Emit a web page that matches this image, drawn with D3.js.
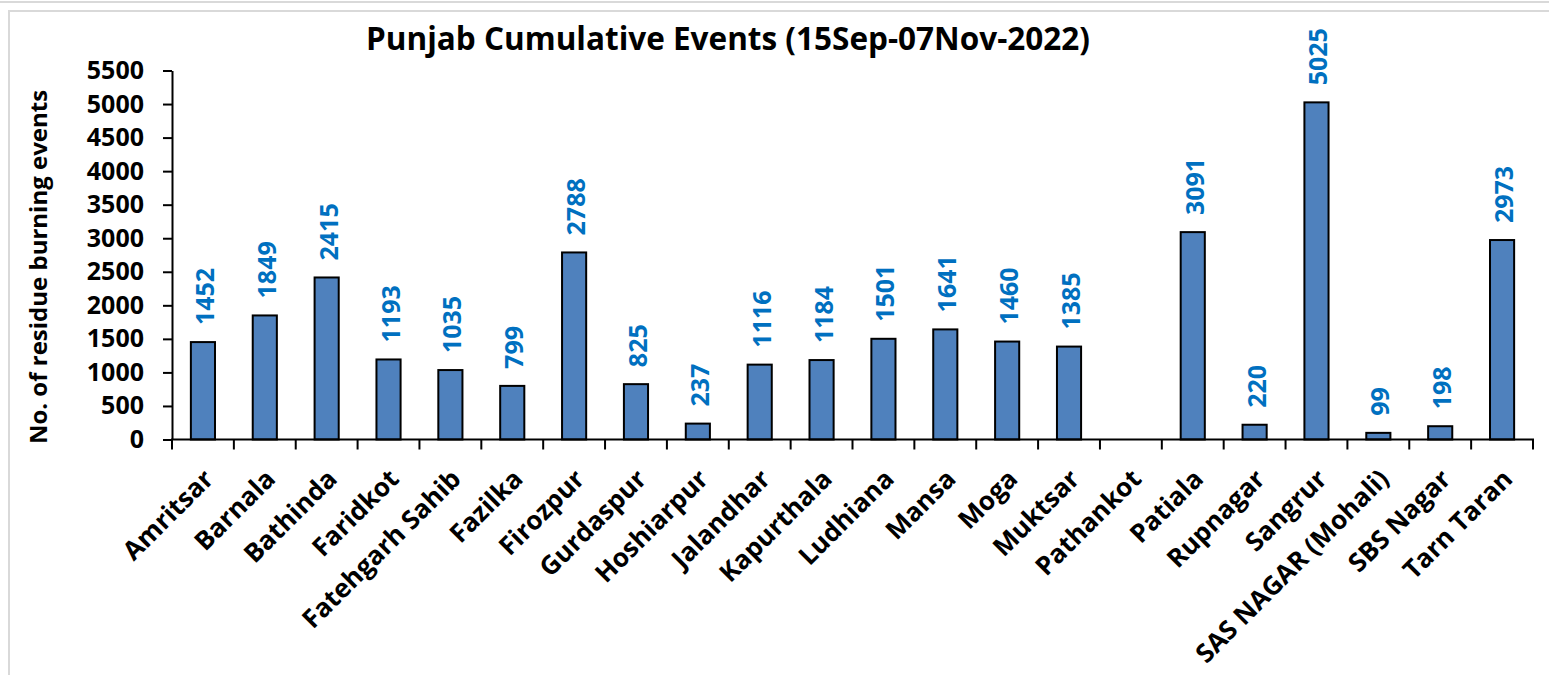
<!DOCTYPE html>
<html>
<head>
<meta charset="utf-8">
<script src="https://cdn.jsdelivr.net/npm/d3@7"></script>
<style>
  body { margin: 0; background: #fff; }
  svg { display: block; font-family: "Open Sans", sans-serif; font-weight: bold; }
</style>
</head>
<body>
<svg></svg>
<script>
// district names and cumulative events
var districts = ["Amritsar", "Barnala", "Bathinda", "Faridkot", "Fatehgarh Sahib", "Fazilka",
  "Firozpur", "Gurdaspur", "Hoshiarpur", "Jalandhar", "Kapurthala", "Ludhiana", "Mansa",
  "Moga", "Muktsar", "Pathankot", "Patiala", "Rupnagar", "Sangrur", "SAS NAGAR (Mohali)",
  "SBS Nagar", "Tarn Taran"];
var events = [1452, 1849, 2415, 1193, 1035, 799, 2788, 825, 237, 1116, 1184, 1501, 1641,
  1460, 1385, null, 3091, 220, 5025, 99, 198, 2973];
var yTicks = [0, 500, 1000, 1500, 2000, 2500, 3000, 3500, 4000, 4500, 5000, 5500];

var svgWidth = 1549, svgHeight = 675;
var plotLeft = 172, plotRight = 1533, plotTop = 70.5, plotBottom = 439.5;

var svg = d3.select('svg')
  .attr('width', svgWidth)
  .attr('height', svgHeight);

// outer frames
svg.append('line')
  .attr('x1', 0).attr('x2', svgWidth).attr('y1', 2).attr('y2', 2)
  .attr('stroke', '#d9d9d9').attr('stroke-width', 2);
svg.append('path')
  .attr('d', 'M9,' + (svgHeight + 5) + 'V11H' + (svgWidth + 5))
  .attr('fill', 'none')
  .attr('stroke', '#d9d9d9').attr('stroke-width', 2);

var xScale = d3.scaleBand()
  .domain(districts)
  .range([plotLeft, plotRight])
  .paddingInner(0.61)
  .paddingOuter(0.305);

var yScale = d3.scaleLinear()
  .domain([0, 5500])
  .range([plotBottom, plotTop]);

// bars
var data = districts.map((d, i) => ({name: d, value: events[i]}));
var withValue = data.filter(d => d.value != null);

svg.selectAll('rect.bar')
  .data(withValue)
  .enter()
  .append('rect')
  .attr('class', 'bar')
  .attr('x', d => xScale(d.name))
  .attr('y', d => yScale(d.value))
  .attr('width', xScale.bandwidth())
  .attr('height', d => plotBottom - yScale(d.value))
  .attr('fill', '#4f81bd')
  .attr('stroke', '#000')
  .attr('stroke-width', 2);

// value labels
svg.selectAll('text.val')
  .data(withValue)
  .enter()
  .append('text')
  .attr('class', 'val')
  .attr('transform', d => 'translate(' + (xScale(d.name) + xScale.bandwidth() / 2 + 1) + ',' + (yScale(d.value) - 17) + ') rotate(-90)')
  .attr('dominant-baseline', 'central')
  .attr('text-anchor', 'start')
  .attr('fill', '#0070c0')
  .attr('font-size', 25)
  .text(d => d.value);

// y axis
var yAxis = d3.axisLeft(yScale)
  .tickValues(yTicks)
  .tickFormat(d3.format('d'))
  .tickSize(9)
  .tickPadding(19)
  .tickSizeOuter(0);

var gy = svg.append('g')
  .attr('transform', 'translate(' + plotLeft + ',0)')
  .call(yAxis);
gy.selectAll('path, line').attr('stroke', '#000').attr('stroke-width', 2);
gy.selectAll('text')
  .attr('font-family', '"Open Sans", sans-serif')
  .attr('font-weight', 'bold')
  .attr('font-size', 25)
  .attr('fill', '#000');

// x axis: ticks between categories
var step = xScale.step();
var boundaries = d3.range(districts.length + 1).map(i => plotLeft + i * step);
var gx = svg.append('g');
gx.append('line')
  .attr('x1', plotLeft - 1).attr('x2', plotRight + 1)
  .attr('y1', plotBottom).attr('y2', plotBottom)
  .attr('stroke', '#000').attr('stroke-width', 2);
gx.selectAll('line.tick')
  .data(boundaries)
  .enter()
  .append('line')
  .attr('class', 'tick')
  .attr('x1', d => d).attr('x2', d => d)
  .attr('y1', plotBottom).attr('y2', plotBottom + 10)
  .attr('stroke', '#000').attr('stroke-width', 2);

gx.selectAll('text.cat')
  .data(districts)
  .enter()
  .append('text')
  .attr('class', 'cat')
  .attr('transform', d => 'translate(' + (xScale(d) + xScale.bandwidth() / 2 + 5) + ',' + (plotBottom + 34) + ') rotate(-45)')
  .attr('text-anchor', 'end')
  .attr('dominant-baseline', 'central')
  .attr('font-size', 26)
  .attr('fill', '#000')
  .text(d => d);

// y axis title
svg.append('text')
  .attr('transform', 'translate(37,267) rotate(-90)')
  .attr('text-anchor', 'middle')
  .attr('dominant-baseline', 'central')
  .attr('font-size', 24)
  .attr('fill', '#000')
  .text('No. of residue burning events');

// chart title
svg.append('text')
  .attr('x', 728)
  .attr('y', 50)
  .attr('text-anchor', 'middle')
  .attr('font-size', 31.5)
  .attr('fill', '#000')
  .text('Punjab Cumulative Events (15Sep-07Nov-2022)');
</script>
</body>
</html>
